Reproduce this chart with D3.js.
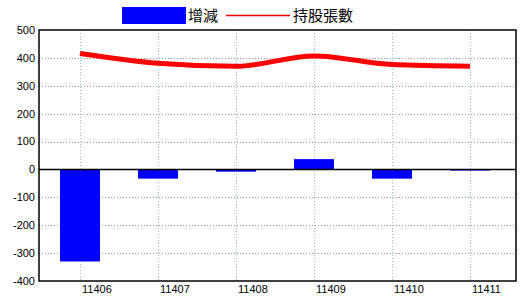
<!DOCTYPE html>
<html>
<head>
<meta charset="utf-8">
<script src="https://cdn.jsdelivr.net/npm/d3@7"></script>
<style>
  body { margin: 0; background: #fff; }
  text { font-family: "Liberation Sans", Arial, sans-serif; }
</style>
</head>
<body>
<script>
// data
var months = ["11406", "11407", "11408", "11409", "11410", "11411"];
var changes = [-330, -33, -8, 37, -33, -4];      // 增減
var holdings = [416, 381, 370, 407, 376, 370];   // 持股張數
var yTicks = [-400, -300, -200, -100, 0, 100, 200, 300, 400, 500];

var width = 520, height = 300;
var frame = { left: 39, right: 516, top: 30, bottom: 281 };

var svg = d3.select("body")
  .append("svg")
  .attr("width", width)
  .attr("height", height);

var x = d3.scalePoint()
  .domain(months)
  .range([80, 470]);

var y = d3.scaleLinear()
  .domain([-400, 500])
  .range([frame.bottom, frame.top]);

var barWidth = 40;

// horizontal grid
svg.append("g")
  .selectAll("line")
  .data(yTicks.filter(function (d) { return d !== 0 && d !== 500 && d !== -400; }))
  .enter().append("line")
  .attr("x1", frame.left)
  .attr("x2", frame.right)
  .attr("y1", function (d) { return Math.round(y(d)) + 0.5; })
  .attr("y2", function (d) { return Math.round(y(d)) + 0.5; })
  .style("stroke", "#999")
  .style("stroke-dasharray", "1,2");

// vertical grid
svg.append("g")
  .selectAll("line")
  .data(months)
  .enter().append("line")
  .attr("x1", function (d) { return Math.round(x(d)) + 0.5; })
  .attr("x2", function (d) { return Math.round(x(d)) + 0.5; })
  .attr("y1", frame.top)
  .attr("y2", frame.bottom)
  .style("stroke", "#9bbccc")
  .style("stroke-dasharray", "1,2");

// bars
svg.append("g")
  .selectAll("rect")
  .data(changes)
  .enter().append("rect")
  .attr("x", function (d, i) { return x(months[i]) - barWidth / 2; })
  .attr("width", barWidth)
  .attr("y", function (d) { return y(Math.max(0, d)); })
  .attr("height", function (d) { return Math.abs(y(d) - y(0)); })
  .style("fill", "#0000ff");

// zero line
svg.append("line")
  .attr("x1", frame.left)
  .attr("x2", frame.right)
  .attr("y1", y(0))
  .attr("y2", y(0))
  .style("stroke", "#000")
  .style("stroke-width", 1.5);

// holdings line
var line = d3.line()
  .x(function (d, i) { return x(months[i]); })
  .y(function (d) { return y(d); })
  .curve(d3.curveMonotoneX);

svg.append("path")
  .datum(holdings)
  .attr("d", line)
  .style("fill", "none")
  .style("stroke", "#ff0000")
  .style("stroke-width", 5);

// frame
svg.append("rect")
  .attr("x", frame.left)
  .attr("y", frame.top)
  .attr("width", frame.right - frame.left)
  .attr("height", frame.bottom - frame.top)
  .style("fill", "none")
  .style("stroke", "#000")
  .style("stroke-width", 1.5);

// y tick labels
svg.append("g")
  .selectAll("text")
  .data(yTicks)
  .enter().append("text")
  .attr("x", 35)
  .attr("y", function (d) { return y(d); })
  .attr("dy", "0.35em")
  .attr("text-anchor", "end")
  .style("font-size", "11px")
  .text(function (d) { return d; });

// x tick labels
svg.append("g")
  .selectAll("text")
  .data(months)
  .enter().append("text")
  .attr("x", function (d) { return x(d) + 2; })
  .attr("y", 293)
  .style("font-size", "11px")
  .text(function (d) { return d; });

// legend
var legend = svg.append("g");
legend.append("rect")
  .attr("x", 122)
  .attr("y", 7)
  .attr("width", 64)
  .attr("height", 17)
  .style("fill", "#0000ff");
legend.append("text")
  .attr("x", 188)
  .attr("y", 21)
  .style("font-family", "'Noto Sans CJK TC', sans-serif")
  .style("font-size", "15px")
  .text("增減");
legend.append("line")
  .attr("x1", 226)
  .attr("x2", 290)
  .attr("y1", 15.5)
  .attr("y2", 15.5)
  .style("stroke", "#ff0000")
  .style("stroke-width", 1.5);
legend.append("text")
  .attr("x", 293)
  .attr("y", 21)
  .style("font-family", "'Noto Sans CJK TC', sans-serif")
  .style("font-size", "15px")
  .text("持股張數");
</script>
</body>
</html>
